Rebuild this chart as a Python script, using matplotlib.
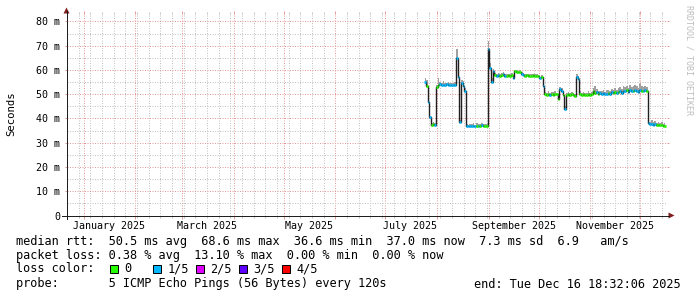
import matplotlib
matplotlib.use('Agg')
import matplotlib.pyplot as plt
import matplotlib.dates as mdates
from matplotlib.ticker import MultipleLocator, FixedLocator
from matplotlib.patches import Polygon, Rectangle
from datetime import datetime, timedelta
import numpy as np

# ---------------- data ----------------
end_time = datetime(2025, 12, 16, 18, 32, 6)
span_days = 360
first_sample = datetime(2025, 7, 25)   # one sample per day from here

median_ms = [
    55.0, 53.5, 47.0, 40.5, 37.4, 37.9, 37.2, 53.0, 54.0, 54.2,   # 205-214
    54.0, 53.8, 54.0, 54.1, 53.9, 54.0, 54.0, 53.8, 54.0, 65.0,   # 215-224
    57.0, 38.5, 54.5, 53.6, 51.5, 37.0, 36.8, 37.0, 36.8, 36.9,   # 225-234
    36.8, 37.1, 36.8, 36.9, 37.2, 36.8, 37.0, 36.9, 68.7, 61.0,   # 235-244
    55.0, 59.5, 58.0, 57.5, 57.8, 57.5, 58.0, 58.3, 57.6, 57.5,   # 245-254
    57.8, 57.5, 57.8, 56.5, 59.4, 59.3, 59.0, 59.2, 58.5, 58.0,   # 255-264
    57.6, 57.8, 57.5, 57.7, 57.6, 57.8, 57.5, 57.6, 57.4, 56.5,   # 265-274
    57.3, 53.5, 50.2, 49.8, 50.0, 49.8, 50.1, 49.8, 50.0, 49.9,   # 275-284
    48.1, 52.2, 51.5, 49.8, 44.0, 49.8, 50.0, 49.8, 49.9, 49.8,   # 285-294
    49.4, 57.0, 56.3, 50.0, 49.8, 50.0, 49.8, 49.7, 50.1, 49.8,   # 295-304
    50.0, 51.4, 50.6, 51.0, 50.2, 50.4, 50.2, 50.5, 50.2, 50.3,   # 305-314
    50.6, 50.2, 50.8, 50.5, 50.9, 50.4, 51.0, 51.3, 50.6, 51.5,   # 315-324
    51.2, 51.6, 51.0, 51.8, 51.4, 51.2, 51.7, 51.5, 51.0, 51.8,   # 325-334
    51.5, 51.3, 51.6, 51.2, 38.0, 37.6, 37.8, 37.5, 37.7, 37.4,   # 335-344
    37.5, 37.2, 37.3, 37.0, 37.1,                                 # 345-349
]

smoke_top_ms = [
    56.5, 56.0, 47.5, 41.0, 38.0, 38.5, 38.0, 54.0, 56.5, 55.0,
    54.8, 55.5, 54.6, 54.8, 55.0, 54.5, 54.8, 54.6, 55.0, 68.5,
    60.0, 39.5, 56.0, 55.5, 52.5, 37.8, 37.5, 37.8, 37.6, 38.2,
    37.5, 38.0, 37.6, 37.8, 38.3, 37.6, 37.9, 37.6, 72.0, 63.0,
    56.5, 60.5, 58.8, 58.2, 58.6, 58.4, 58.8, 59.0, 58.3, 58.3,
    58.5, 58.2, 58.6, 57.5, 60.0, 59.9, 59.6, 59.8, 59.2, 58.7,
    58.3, 58.5, 58.2, 58.4, 58.3, 58.5, 58.2, 58.3, 58.1, 57.3,
    58.0, 54.5, 51.0, 50.6, 51.2, 50.5, 51.0, 50.8, 51.2, 50.6,
    49.0, 53.0, 52.5, 50.5, 45.0, 50.6, 51.0, 50.6, 50.8, 50.5,
    50.2, 58.5, 57.5, 51.2, 50.6, 51.0, 50.6, 50.5, 51.3, 50.6,
    51.0, 52.6, 53.2, 52.0, 51.3, 51.2, 51.5, 51.6, 51.1, 51.8,
    51.8, 51.2, 52.2, 51.6, 52.4, 51.6, 52.6, 53.0, 52.0, 53.5,
    52.8, 53.6, 52.6, 54.0, 53.0, 53.4, 53.8, 53.2, 52.6, 54.2,
    53.6, 53.0, 53.4, 52.8, 38.8, 38.5, 39.2, 38.4, 38.8, 38.3,
    38.6, 38.2, 38.4, 37.8, 38.0,
]

# loss level per sample (number of lost pings out of 5)
loss = [
    1, 0, 1, 1, 0, 0, 1, 0, 0, 1,
    1, 1, 1, 1, 1, 1, 1, 1, 1, 1,
    1, 1, 1, 1, 1, 1, 1, 1, 1, 1,
    1, 0, 1, 0, 1, 0, 0, 0, 1, 1,
    1, 1, 0, 1, 1, 0, 0, 1, 1, 0,
    0, 0, 0, 1, 0, 0, 0, 0, 1, 1,
    0, 0, 0, 0, 0, 0, 0, 0, 0, 1,
    0, 1, 0, 0, 0, 1, 0, 0, 0, 0,
    0, 1, 1, 0, 1, 0, 0, 0, 0, 0,
    0, 1, 1, 0, 0, 0, 0, 0, 0, 0,
    0, 0, 0, 1, 0, 1, 1, 1, 1, 1,
    0, 1, 1, 0, 0, 1, 0, 1, 1, 1,
    1, 0, 1, 1, 1, 0, 1, 1, 1, 1,
    0, 1, 1, 0, 1, 1, 1, 1, 1, 0,
    0, 0, 0, 0, 0,
]

loss_labels = ["0", "1/5", "2/5", "3/5", "4/5"]
loss_colors = ["#26ff00", "#00b8ff", "#dd00ff", "#5e00ff", "#ff0000"]

y_ticks = [0, 10, 20, 30, 40, 50, 60, 70, 80]
y_tick_labels = ["0", "10 m", "20 m", "30 m", "40 m", "50 m", "60 m", "70 m", "80 m"]
x_label_months = [(2025, 1, "January 2025"), (2025, 3, "March 2025"), (2025, 5, "May 2025"),
                  (2025, 7, "July 2025"), (2025, 9, "September 2025"), (2025, 11, "November 2025")]

legend_lines = [
    "median rtt:  50.5 ms avg  68.6 ms max  36.6 ms min  37.0 ms now  7.3 ms sd  6.9   am/s",
    "packet loss: 0.38 % avg  13.10 % max  0.00 % min  0.00 % now",
    "loss color:",
    "probe:       5 ICMP Echo Pings (56 Bytes) every 120s",
]
end_label = "end: Tue Dec 16 18:32:06 2025"

# ---------------- figure ----------------
W, H = 697, 297
fig = plt.figure(figsize=(W / 100, H / 100), dpi=100)
fig.patch.set_facecolor('white')
L, R, T, B = 66.5, 666.5, 13.5, 215.5
ax = fig.add_axes([L / W, 1 - B / H, (R - L) / W, (B - T) / H])
ax.set_facecolor('white')

mono = 'DejaVu Sans Mono'
GRID = '#c2c2c2'
MGRID = '#e89a9a'

start_time = end_time - timedelta(days=span_days)
ax.set_xlim(mdates.date2num(start_time), mdates.date2num(end_time))
ax.set_ylim(0, (B - T) / 2.425)

dates = [first_sample + timedelta(days=i) for i in range(len(median_ms))]
xd = mdates.date2num(dates)
med = np.array(median_ms)
top = np.array(smoke_top_ms)

# grid
ax.xaxis.set_major_locator(mdates.MonthLocator(bymonthday=1))
ax.xaxis.set_minor_locator(mdates.WeekdayLocator(byweekday=mdates.SU))
ax.yaxis.set_major_locator(FixedLocator(y_ticks))
ax.yaxis.set_minor_locator(MultipleLocator(5))
ax.grid(which='minor', color=GRID, linestyle=(0, (1, 1.5)), linewidth=0.72, snap=True, zorder=0)
ax.grid(which='major', color=MGRID, linestyle=(0, (1, 1.5)), linewidth=0.72, snap=True, zorder=0)
ax.set_axisbelow(True)
ax.set_xticklabels([])
ax.set_yticklabels(y_tick_labels, fontfamily=mono, fontsize=7.2)
ax.tick_params(axis='x', which='major', length=2.2, width=0.72, color=MGRID, direction='out', top=True)
ax.tick_params(axis='x', which='minor', length=1.5, width=0.72, color=GRID, direction='out', top=True)
ax.tick_params(axis='y', which='major', length=1.5, width=0.72, color=MGRID, direction='out', right=True, pad=3)
ax.tick_params(axis='y', which='minor', length=0, right=False)
for s in ax.spines.values():
    s.set_visible(False)

# month labels (centred mid-month)
for (yy, mm, lab) in x_label_months:
    xm = mdates.date2num(datetime(yy, mm, 16))
    ax.text(xm, -0.052, lab, transform=ax.get_xaxis_transform(), ha='center', va='center',
            fontfamily=mono, fontsize=7.2, color='black', clip_on=False)

# smoke
ax.fill_between(xd, med, top, step='mid', color='#a0a0a0', linewidth=0, zorder=2)
# median line
ax.step(xd, med, where='mid', color='#202020', linewidth=1.0, zorder=3)
# loss-coloured median marks
cols = [loss_colors[l] for l in loss]
ax.hlines(med, xd - 0.5, xd + 0.5, colors=cols, linewidth=1.9, zorder=4)

# overlay in pixel coordinates
ov = fig.add_axes([0, 0, 1, 1], facecolor='none')
ov.set_xlim(0, W)
ov.set_ylim(H, 0)
ov.axis('off')

# axes lines and arrows
ov.plot([62, 669], [215.5, 215.5], color='#1f1f1f', lw=0.72, snap=True)
ov.plot([66.5, 66.5], [219, 11], color='#1f1f1f', lw=0.72, snap=True)
ov.add_patch(Polygon([[63.5, 13.5], [69.5, 13.5], [66.5, 7.5]], closed=True, color='#801f1f', lw=0))
ov.add_patch(Polygon([[668.5, 212.5], [668.5, 218.5], [674.5, 215.5]], closed=True, color='#801f1f', lw=0))

# y label
ov.text(11, 114, "Seconds", rotation=90, ha='center', va='center', fontfamily=mono, fontsize=7.7)
# watermark
ov.text(688.5, 60, "RRDTOOL / TOBI OETIKER", rotation=-90, ha='center', va='center',
        fontfamily=mono, fontsize=6, color='#bdbdbd')

# legend text
cw = 7.2
x0 = 16
ys = [241, 255, 269, 284]
for txt, yy in zip(legend_lines, ys):
    ov.text(x0, yy, txt, ha='left', va='center', fontfamily=mono, fontsize=8.6)
for i, (lab, c) in enumerate(zip(loss_labels, loss_colors)):
    bx = x0 + (13 + 6 * i) * cw
    ov.add_patch(Rectangle((bx, ys[2] - 4.5), 8, 8, facecolor=c, edgecolor='black', lw=0.72))
    ov.text(bx + 2 * cw, ys[2], lab, ha='left', va='center', fontfamily=mono, fontsize=8.6)
ov.text(681, ys[3], end_label, ha='right', va='center', fontfamily=mono, fontsize=8.6)

fig.savefig('out.png', dpi=100, facecolor='white')
